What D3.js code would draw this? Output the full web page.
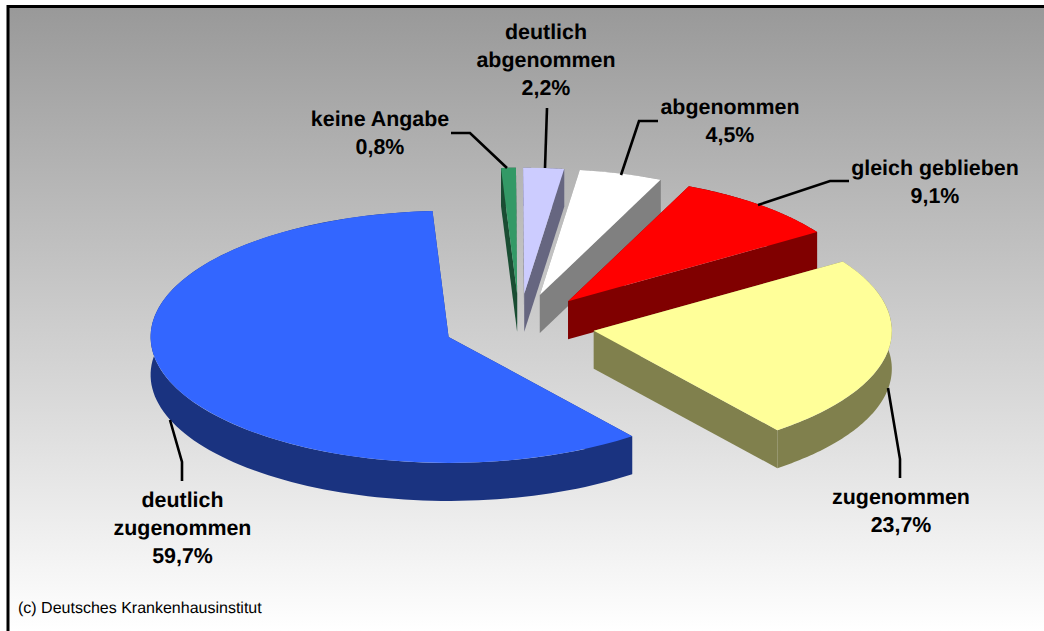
<!DOCTYPE html>
<html>
<head>
<meta charset="utf-8">
<script src="https://cdn.jsdelivr.net/npm/d3@7"></script>
<style>
  html,body{margin:0;padding:0;background:#fff;overflow:hidden}
  svg{display:block}
  text{font-family:"Liberation Sans",Arial,sans-serif;fill:#000;text-rendering:geometricPrecision}
</style>
</head>
<body>
<script>
// data, in drawing order (back slices first, the big one last)
var categories=["keine Angabe","deutlich abgenommen","abgenommen","gleich geblieben","zugenommen","deutlich zugenommen"];
var values=[0.8,2.2,4.5,9.1,23.7,59.7];
var valueLabels=["0,8%","2,2%","4,5%","9,1%","23,7%","59,7%"];
var colors=["#339966","#ccccff","#ffffff","#ff0000","#ffff99","#3366ff"];

// label lines and leader lines, one entry per category
var labelLines=[["keine Angabe"],["deutlich","abgenommen"],["abgenommen"],["gleich geblieben"],["zugenommen"],["deutlich","zugenommen"]];
var labelPos=[[380,126],[546,39],[730,114],[935,175],[901,504],[182.5,507]];
var leaders=[
  [[451,133],[470,133],[507,168]],
  [[547,108],[545,168]],
  [[658,121],[639,121],[621,175]],
  [[849,181],[830,181],[758,205]],
  [[888,388],[900,459],[900,478]],
  [[170,420],[182,462],[182,481]]
];

var W=1044,H=631;
var cx=519.3,cy=325.7,rx=298,ry=126,depth=38,explode=0.2534;
var firstAngle=(356.9-360)*Math.PI/180;   // keine Angabe starts just left of 12 o'clock

var svg=d3.select("body").append("svg").attr("width",W).attr("height",H);

var grad=svg.append("defs").append("linearGradient").attr("id","bg")
  .attr("x1",0).attr("y1",0).attr("x2",0).attr("y2",1);
grad.append("stop").attr("offset","0%").attr("stop-color","#999999");
grad.append("stop").attr("offset","100%").attr("stop-color","#ffffff");

svg.append("rect").attr("width",W).attr("height",H).attr("fill","#fff");
svg.append("rect").attr("x",8).attr("y",7).attr("width",W).attr("height",H-7).attr("fill","url(#bg)");
svg.append("path").attr("d","M8,"+H+"V6.5H"+W).attr("fill","none").attr("stroke","#000").attr("stroke-width",3);

// pie angles from d3, then squashed into an ellipse
var pie=d3.pie().sort(null).startAngle(firstAngle).endAngle(firstAngle+2*Math.PI);
var arcs=pie(values);
var arc=d3.arc().innerRadius(0).outerRadius(rx);

// screen position of angle a on a slice displaced by off
var ptX=function(a,off){return off[0]+rx*Math.sin(a)},
    ptY=function(a,off){return off[1]-ry*Math.cos(a)};
var line=d3.line();

var slices=svg.selectAll("g.slice").data(arcs).enter().append("g").attr("class","slice");

slices.each(function(d,i){
  var g=d3.select(this),
      mid=(d.startAngle+d.endAngle)/2,
      off=[cx+explode*rx*Math.sin(mid),cy-explode*ry*Math.cos(mid)],
      side=d3.rgb(colors[i]),
      dark=d3.rgb(side.r/2,side.g/2,side.b/2).formatHex();

  // cut faces
  [d.startAngle,d.endAngle].forEach(function(a){
    g.append("path").attr("fill",dark)
      .attr("d",line([
        [off[0],off[1]],[ptX(a,off),ptY(a,off)],
        [ptX(a,off),ptY(a,off)+depth],[off[0],off[1]+depth]
      ])+"Z");
  });

  // rim, sampled along the ellipse
  var steps=d3.range(0,121).map(function(k){return d.startAngle+(d.endAngle-d.startAngle)*k/120});
  var rim=steps.map(function(a){return [ptX(a,off),ptY(a,off)]})
    .concat(steps.slice().reverse().map(function(a){return [ptX(a,off),ptY(a,off)+depth]}));
  g.append("path").attr("fill",dark).attr("d",line(rim)+"Z");

  // top
  g.append("path").attr("fill",colors[i]).attr("d",arc(d))
    .attr("transform","translate("+off[0]+","+off[1]+") scale(1,"+(ry/rx)+")");
});

// leader lines
svg.selectAll("path.leader").data(leaders).enter().append("path").attr("class","leader")
  .attr("d",function(d){return line(d)})
  .attr("fill","none").attr("stroke","#000").attr("stroke-width",2.6);

// labels
var lh=28;
categories.forEach(function(c,i){
  var t=svg.append("text").attr("text-anchor","middle").attr("font-weight","bold").attr("font-size",21.4)
    .attr("x",labelPos[i][0]).attr("y",labelPos[i][1]);
  labelLines[i].concat([valueLabels[i]]).forEach(function(s,k){
    t.append("tspan").attr("x",labelPos[i][0]).attr("dy",k?lh:0).text(s);
  });
});

svg.append("text").attr("x",18).attr("y",613).attr("font-size",16).text("(c) Deutsches Krankenhausinstitut");
</script>
</body>
</html>
